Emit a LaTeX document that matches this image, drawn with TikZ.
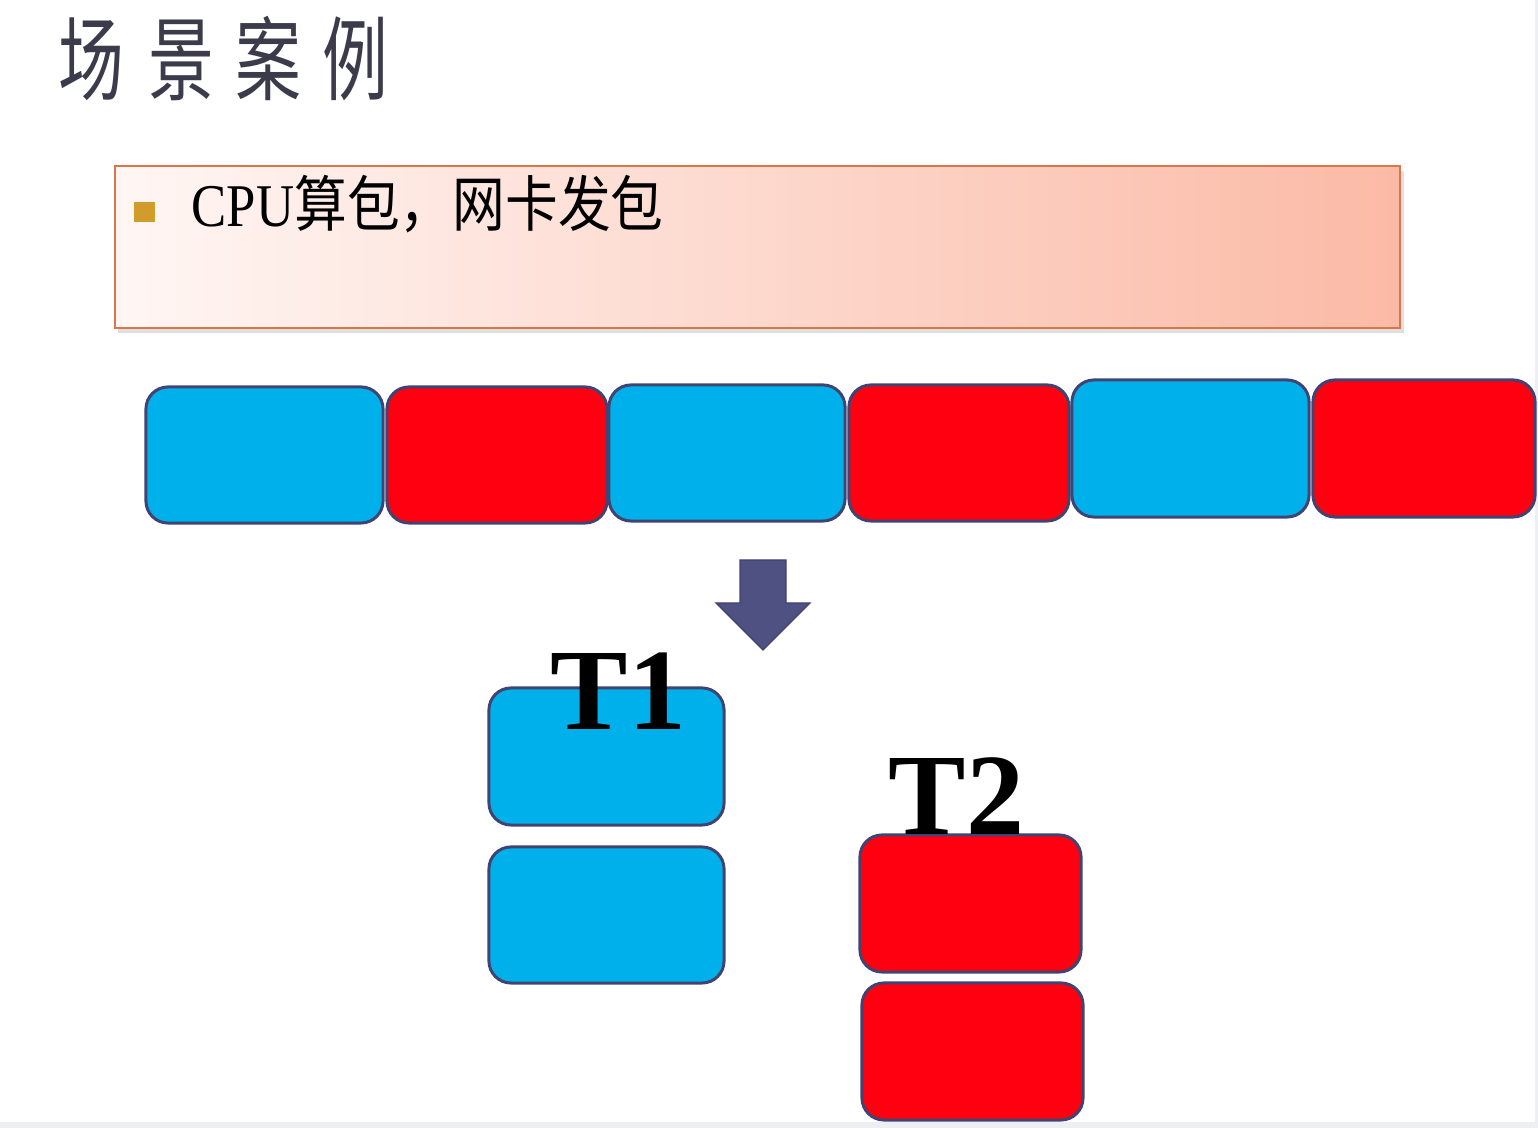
\documentclass[tikz,border=0pt]{standalone}
\usepackage{fontspec}
\setmainfont{Liberation Serif}
\newfontfamily\cjk{Noto Sans CJK SC}
\usetikzlibrary{shadows}
\definecolor{cblue}{HTML}{00B0EA}
\definecolor{cred}{HTML}{FF0010}
\definecolor{cedge}{HTML}{404472}
\definecolor{carrow}{HTML}{4F5183}
\definecolor{ctitle}{HTML}{3B3B4B}
\definecolor{pinkL}{HTML}{FFF6F4}
\definecolor{pinkR}{HTML}{FBBAA6}
\definecolor{pinkedge}{HTML}{D9774A}
\definecolor{cbullet}{HTML}{D19C29}
\definecolor{cstrip}{HTML}{EDEFF2}
\tikzset{
  pkt/.style={draw=cedge, line width=0.85pt, rounded corners=0.22cm, inner sep=0pt},
  titlechar/.style={inner sep=0pt, anchor=base, text=ctitle, font=\cjk\fontsize{26}{30}\selectfont},
  tlabel/.style={inner sep=0pt, anchor=base west, font=\bfseries\fontsize{33}{40}\selectfont},
}
\begin{document}
\begin{tikzpicture}[x=0.01cm, y=-0.01cm]
\useasboundingbox (0,0) rectangle (1538,1128);
\fill[white] (0,0) rectangle (1538,1128);
\fill[cstrip] (0,1122) rectangle (1538,1128);
\fill[cstrip] (1535,0) rectangle (1538,1128);

% title
\node[titlechar] (c1) at (91,94) {\scalebox{0.72}[1]{场}};
\node[titlechar] (c2) at (181,94) {\scalebox{0.72}[1]{景}};
\node[titlechar] (c3) at (268,94) {\scalebox{0.72}[1]{案}};
\node[titlechar] (c4) at (355,94) {\scalebox{0.72}[1]{例}};

% pink text box
\node[draw=pinkedge, line width=0.6pt, left color=pinkL, right color=pinkR,
      minimum width=12.85cm, minimum height=1.62cm, inner sep=0pt,
      drop shadow={shadow xshift=1pt, shadow yshift=-1.5pt, opacity=0.25}] (box) at (757.5,247) {};
\node[fill=cbullet, minimum size=0.2cm, inner sep=0pt] (bullet) at (144.5,212) {};
\node[inner sep=0pt, anchor=base west] (txt) at (191,227)
  {\scalebox{1}[1.15]{\fontsize{15}{18}\selectfont CPU{\cjk 算包，网卡发包}}};

% packet row
\node[pkt, fill=cblue, minimum width=2.37cm, minimum height=1.36cm] (p1) at (264.5,455) {};
\node[pkt, fill=cred,  minimum width=2.20cm, minimum height=1.36cm] (p2) at (497,455) {};
\node[pkt, fill=cblue, minimum width=2.36cm, minimum height=1.36cm] (p3) at (727,453) {};
\node[pkt, fill=cred,  minimum width=2.20cm, minimum height=1.36cm] (p4) at (959,453) {};
\node[pkt, fill=cblue, minimum width=2.37cm, minimum height=1.37cm] (p5) at (1190.5,448.5) {};
\node[pkt, fill=cred,  minimum width=2.22cm, minimum height=1.37cm] (p6) at (1424,448.5) {};

% block arrow
\draw[draw=cedge, fill=carrow, line width=0.4pt, line join=miter]
  (740,560) -- (786,560) -- (786,603) -- (810,603) -- (763,650) -- (716,603) -- (740,603) -- cycle;

% T1 queue
\node[pkt, fill=cblue, minimum width=2.35cm, minimum height=1.37cm] (a1) at (606.5,756.5) {};
\node[pkt, fill=cblue, minimum width=2.35cm, minimum height=1.36cm] (a2) at (606.5,915) {};
% T2 queue
\node[pkt, fill=cred, minimum width=2.21cm, minimum height=1.37cm] (b1) at (970.5,903.5) {};
\node[pkt, fill=cred, minimum width=2.21cm, minimum height=1.37cm] (b2) at (972.5,1051.5) {};

% labels
\node[tlabel] (t1) at (550,730) {T1};
\node[tlabel] (t2) at (888,835) {T2};
\end{tikzpicture}
\end{document}
